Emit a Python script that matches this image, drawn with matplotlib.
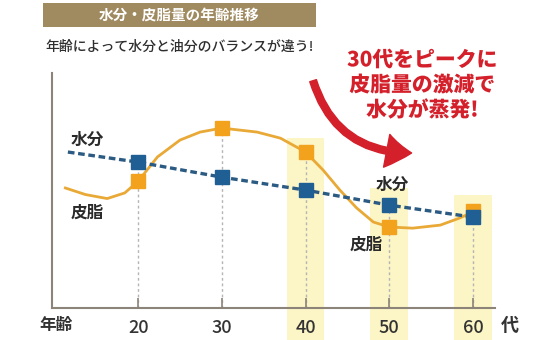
import numpy as np
import matplotlib
matplotlib.use('Agg')
from matplotlib import pyplot as plt
from matplotlib.patches import Rectangle, FancyArrowPatch
import matplotlib.patheffects as pe

plt.rcParams['font.family'] = ['Noto Sans CJK JP', 'DejaVu Sans']

# ages (x) and values on a 0-100 scale
ages = [20, 30, 40, 50, 60]
water = [62.1, 55.7, 50.2, 43.8, 38.7]
sebum = [54.0, 76.6, 66.4, 34.5, 41.3]

# dashed water trend begins a bit left of the first point
water_line_x = [11.6, 20, 30, 40, 50, 60]
water_line_y = [66.4, 62.1, 55.7, 50.2, 43.8, 38.7]

# smooth sebum curve
sebum_curve_x = [11.3, 13.7, 16.3, 18.4, 20, 22.3, 25.0, 27.4, 30, 34.2, 37.0, 40,
                 42.1, 44.1, 46.1, 48.1, 50, 52.8, 56.1, 58.4, 60]
sebum_curve_y = [51.1, 48.3, 46.6, 49.0, 54.0, 64.3, 71.5, 74.9, 76.6, 74.9, 72.3, 66.4,
                 58.7, 50.2, 42.6, 36.6, 34.5, 34.0, 35.3, 38.3, 40.9]

# highlighted decades and how high the pale band reaches
band_ages = [40, 50, 60]
band_tops = [72.3, 51.0, 48.0]

WATER_C = '#1f5f93'
WATER_LINE = '#2b5a82'
SEBUM_C = '#f3a21e'
SEBUM_LINE = '#e9a937'
RED = '#d3202b'

fig = plt.figure(figsize=(5.5, 3.4), dpi=100)
ax = fig.add_axes([0.0945, 0.094, 0.805, 0.691])
ax.set_xlim(9.7, 62.6)
ax.set_ylim(0, 100)

# pale yellow bands, running down past the axis
for a, top in zip(band_ages, band_tops):
    ax.bar(a, top + 14, width=4.5, bottom=-14, color='#fcf5c6',
           zorder=0, clip_on=False)

# grey dashed drop lines
ax.vlines(ages, 0, np.maximum(water, sebum), colors='#b5b5b5',
          linestyles=(0, (2, 2)), linewidth=1, zorder=1)

ax.plot(sebum_curve_x, sebum_curve_y, color=SEBUM_LINE, lw=2, zorder=2,
        solid_joinstyle='round')
ax.plot(water_line_x, water_line_y, color=WATER_LINE, lw=2.4,
        linestyle=(0, (2, 1.1)), zorder=3)
ax.plot(ages, sebum, 's', color=SEBUM_C, markersize=9.5, zorder=4)
ax.plot(ages, water, 's', color=WATER_C, markersize=9.5, zorder=5)

# axes look
for s in ['top', 'right']:
    ax.spines[s].set_visible(False)
for s in ['left', 'bottom']:
    ax.spines[s].set_color('#8c8478')
    ax.spines[s].set_linewidth(1.5)
ax.set_xticks(ages)
ax.set_xticklabels([str(a) for a in ages], fontsize=13, color='#333333',
                   fontweight='medium')
ax.tick_params(axis='x', direction='in', length=7, width=1.2, color='#8c8478', pad=8)
ax.set_yticks([])
ax.patch.set_alpha(0)

# series labels
lab = dict(fontsize=12, color='#2a2a2a', ha='center', va='center', fontweight='bold')
ax.text(13.9, 71.5, '水分', **lab)
ax.text(13.9, 40.8, '皮脂', **lab)
ax.text(50.3, 52.3, '水分', **lab)
ax.text(47.3, 26.8, '皮脂', **lab)

# axis end labels
fig.text(0.102, 0.044, '年齢', fontsize=12, color='#333333', ha='center', va='center',
         fontweight='bold')
fig.text(0.927, 0.044, '代', fontsize=13, color='#333333', ha='center', va='center',
         fontweight='bold')

# title bar
fig.patches.append(Rectangle((0.078, 0.9206), 0.496, 0.0706, transform=fig.transFigure,
                             facecolor='#a08a60', edgecolor='none'))
fig.text(0.326, 0.956, '水分・皮脂量の年齢推移', fontsize=10.5, color='white',
         fontweight='bold', ha='center', va='center')
fig.text(0.082, 0.862, '年齢によって水分と油分のバランスが違う!', fontsize=10,
         color='#2e2e2e', ha='left', va='center', fontweight='medium')

# red call-out
outline = [pe.withStroke(linewidth=3, foreground='white')]
for i, line in enumerate(['30代をピークに', '皮脂量の激減で', '水分が蒸発!']):
    fig.text(0.768, 0.823 - i * 0.0735, line, fontsize=15, color=RED,
             fontweight='heavy', ha='center', va='center', path_effects=outline)

arrow = FancyArrowPatch((40.8, 97.9), (53.0, 66.0),
                        connectionstyle='arc3,rad=0.38',
                        arrowstyle='simple,head_width=24,head_length=18,tail_width=5',
                        mutation_scale=1, color=RED, zorder=6, clip_on=False)
ax.add_patch(arrow)

fig.savefig('out.png', dpi=100)
